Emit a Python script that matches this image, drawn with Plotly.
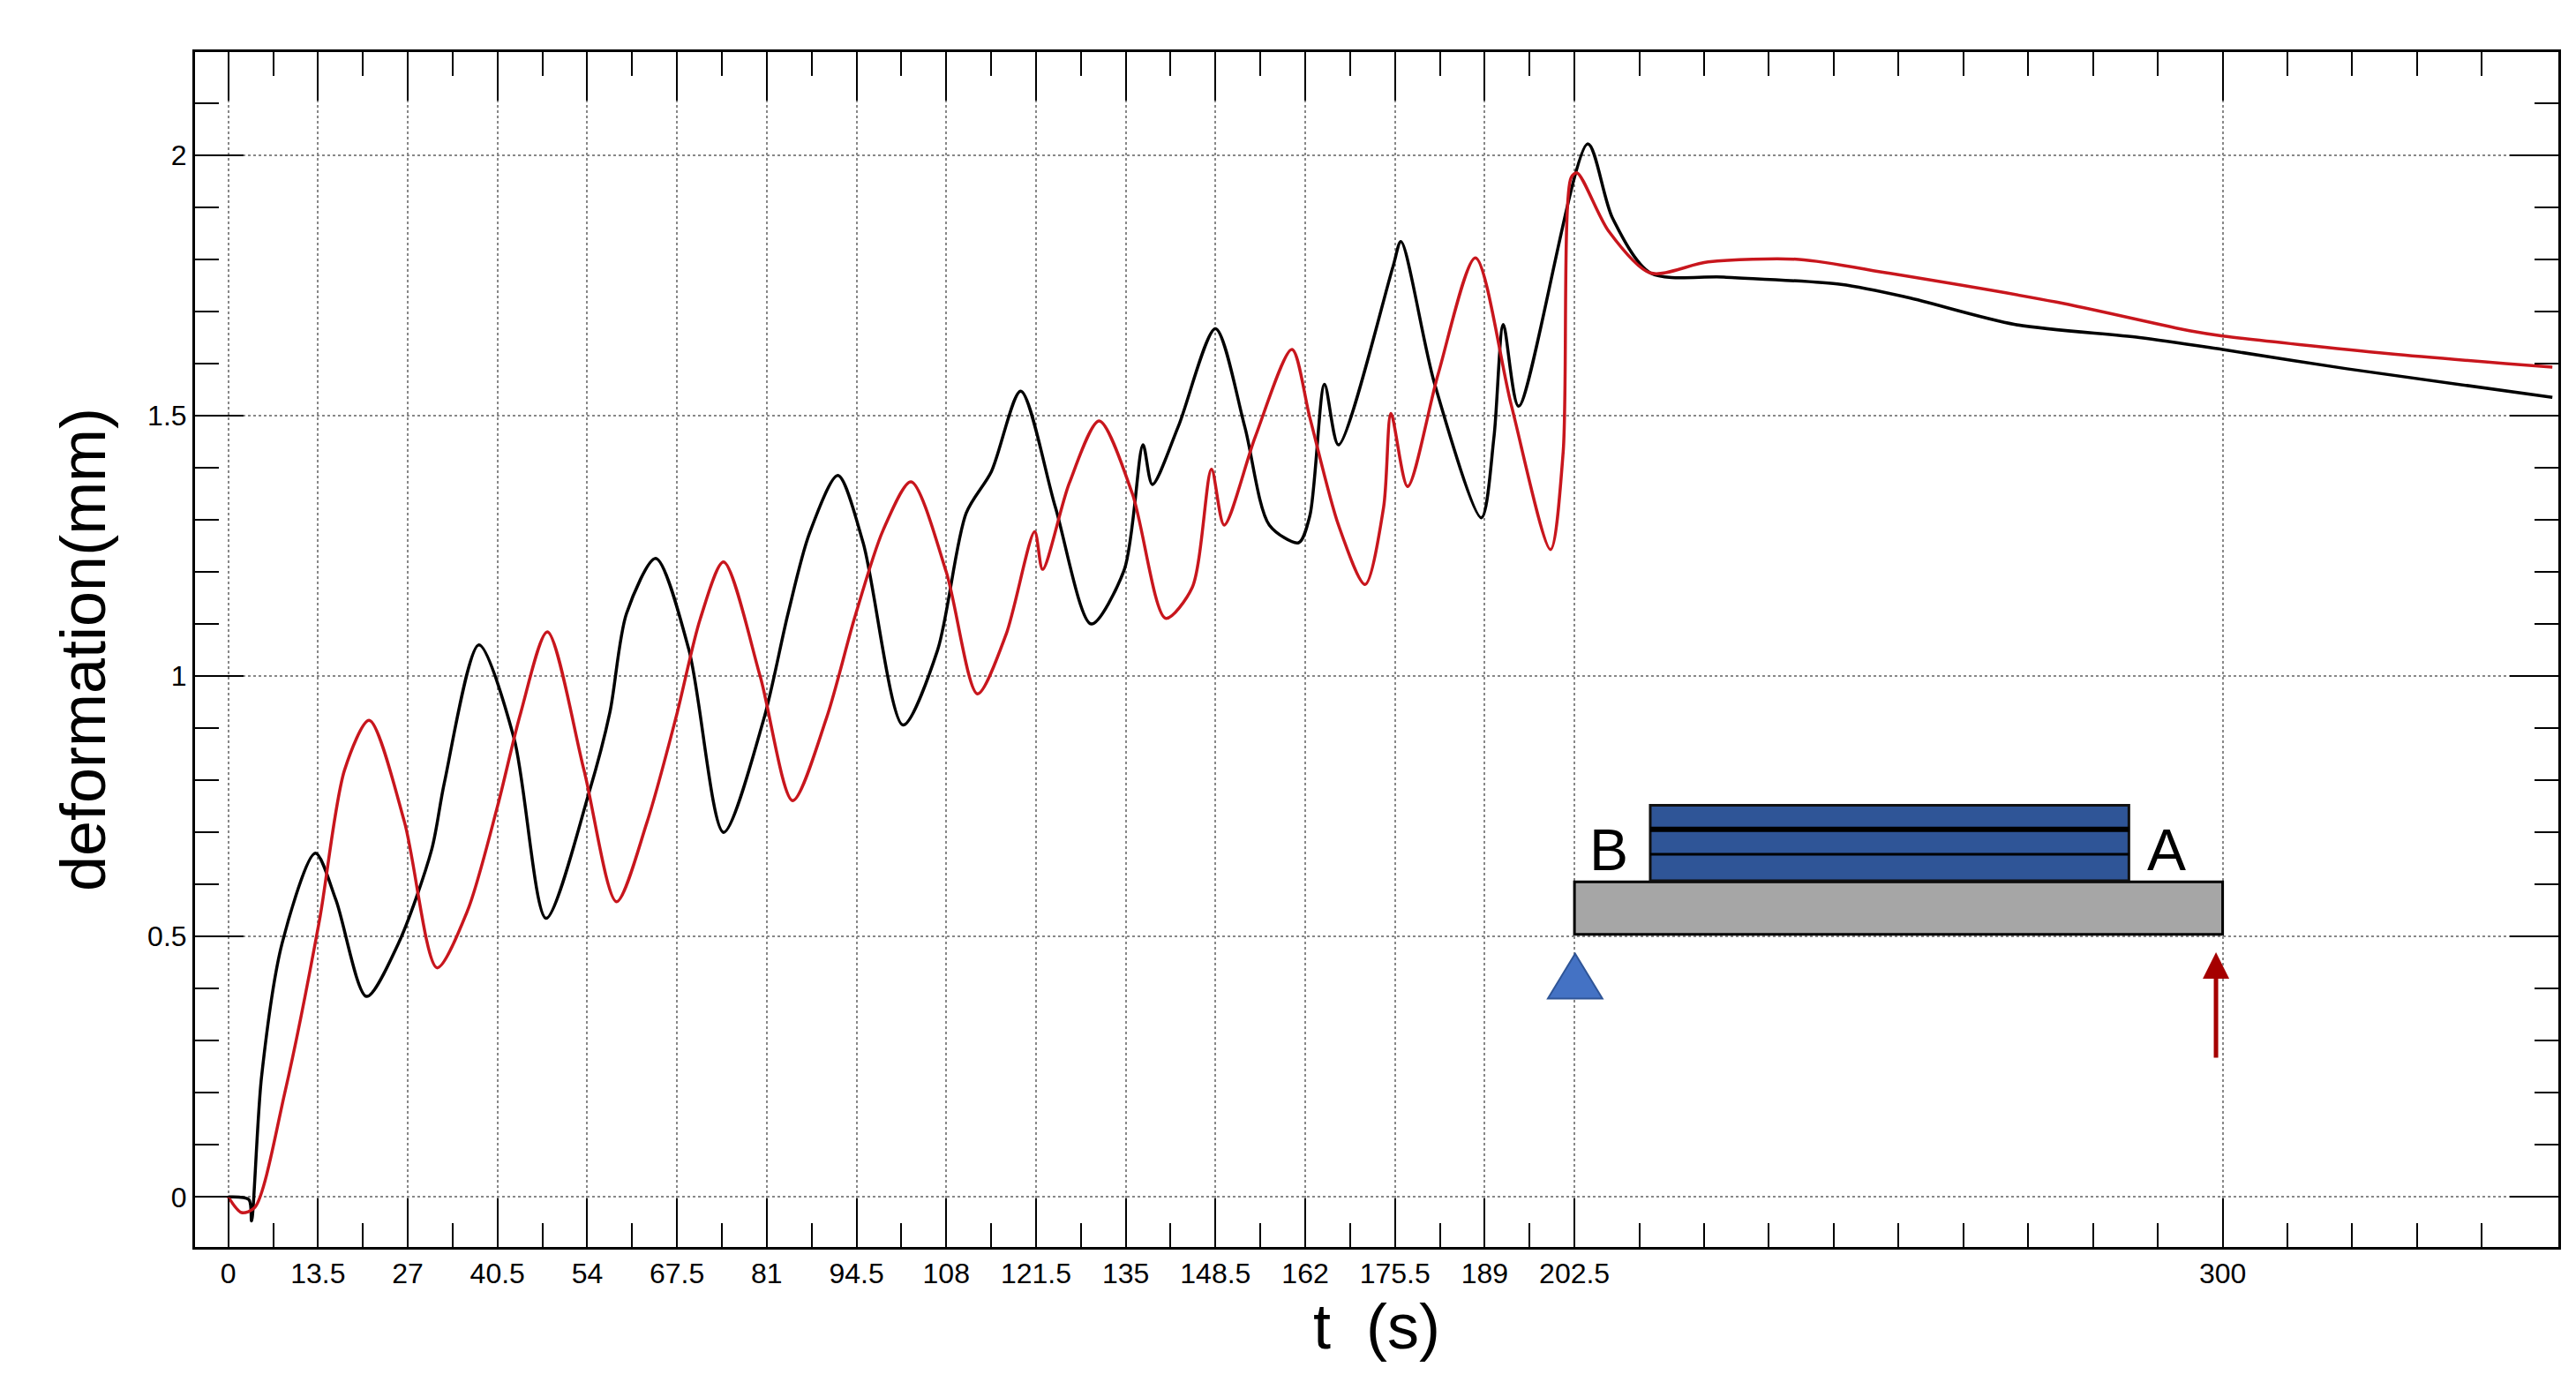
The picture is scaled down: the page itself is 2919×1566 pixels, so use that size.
import plotly.graph_objects as go

# black curve (t in s, deformation in mm)
black_t = [0, 3.1, 3.5, 5, 8.1, 13.1, 16.2, 20.8, 25.6, 30.6, 32.5, 37.7, 43, 47.8, 54.3, 57.4,
           59.9, 64.3, 69.3, 74.5, 80.5, 84.2, 87.4, 91.7, 95.5, 101.5, 106.7, 111, 114.8, 119.2,
           124.4, 129.8, 134.8, 137.6, 139, 142.9, 148.5, 152.9, 156.6, 161, 162.7, 164.9, 167,
           175.2, 176.4, 181.4, 188.5, 190.4, 191.8, 194.1, 204.5, 208.2, 213.9, 225, 242.6, 252.6,
           268.8, 287.5, 300, 318.7, 349.6]
black_y = [0, -0.005, -0.046, 0.23, 0.487, 0.66, 0.57, 0.385, 0.487, 0.667, 0.795, 1.06, 0.88, 0.535,
           0.778, 0.93, 1.12, 1.226, 1.05, 0.70, 0.915, 1.12, 1.273, 1.385, 1.256, 0.906, 1.05, 1.313,
           1.393, 1.547, 1.325, 1.10, 1.205, 1.444, 1.368, 1.479, 1.667, 1.479, 1.29, 1.256, 1.308,
           1.56, 1.444, 1.786, 1.834, 1.564, 1.304, 1.46, 1.675, 1.518, 2.022, 1.88, 1.774, 1.766,
           1.752, 1.727, 1.675, 1.65, 1.627, 1.59, 1.535]

# red curve
red_t = [0, 2, 4, 8.5, 13.7, 17.5, 21.2, 26.5, 31.4, 36, 40.5, 44, 48, 53.5, 58.4, 63, 67.4, 71,
         74.5, 80, 84.9, 90, 94.2, 98.5, 102.7, 108, 112.7, 117, 121.3, 122.5, 126.5, 131, 136,
         141, 145, 147.9, 149.8, 154.5, 160, 162.7, 167, 171, 173.8, 174.9, 177.4, 182, 187.6,
         193, 198.9, 200.8, 202, 202.9, 207.6, 213.9, 222.6, 236.3, 250, 275, 295, 300, 325, 349.6]
red_y = [0, -0.03, -0.02, 0.2, 0.53, 0.82, 0.915, 0.72, 0.44, 0.55, 0.75, 0.93, 1.085, 0.82, 0.567,
         0.72, 0.923, 1.11, 1.219, 1.0, 0.761, 0.92, 1.111, 1.28, 1.373, 1.2, 0.966, 1.08, 1.277,
         1.205, 1.37, 1.49, 1.35, 1.111, 1.17, 1.397, 1.29, 1.46, 1.627, 1.496, 1.29, 1.176, 1.325,
         1.504, 1.364, 1.58, 1.803, 1.52, 1.243, 1.43, 1.957, 1.966, 1.855, 1.774, 1.795, 1.80,
         1.773, 1.718, 1.663, 1.653, 1.619, 1.593]

x_major = [0, 13.5, 27, 40.5, 54, 67.5, 81, 94.5, 108, 121.5, 135, 148.5, 162, 175.5, 189, 202.5, 300]
x_major_text = ['0', '13.5', '27', '40.5', '54', '67.5', '81', '94.5', '108', '121.5', '135',
                '148.5', '162', '175.5', '189', '202.5', '300']
x_minor = [6.75 + 13.5 * i for i in range(15)] + [202.5 + 9.75 * i for i in range(1, 15)]

RED = '#c8161d'

fig = go.Figure()
fig.add_trace(go.Scatter(x=black_t, y=black_y, mode='lines', line=dict(color='black', width=3.5, shape='spline', smoothing=0.8)))
fig.add_trace(go.Scatter(x=red_t, y=red_y, mode='lines', line=dict(color=RED, width=3.5, shape='spline', smoothing=0.8)))
# dummy trace for minor x ticks axis
fig.add_trace(go.Scatter(x=[0], y=[0], xaxis='x2', mode='markers', marker=dict(opacity=0), hoverinfo='skip'))

# beam sketch
shapes = [
    dict(type='rect', x0=202.5, x1=300, y0=0.504, y1=0.605, fillcolor='#a6a6a6', line=dict(color='black', width=3)),
    dict(type='rect', x0=213.9, x1=285.9, y0=0.607, y1=0.752, fillcolor='#2f5597', line=dict(color='#111', width=3)),
    dict(type='line', x0=213.9, x1=285.9, y0=0.706, y1=0.706, line=dict(color='black', width=6)),
    dict(type='line', x0=213.9, x1=285.9, y0=0.658, y1=0.658, line=dict(color='black', width=3)),
    dict(type='path', path='M 198.5 0.381 L 206.7 0.381 L 202.6 0.467 Z', fillcolor='#4472c4', line=dict(color='#2f5597', width=2)),
]
annotations = [
    dict(x=207.6, y=0.667, text='B', showarrow=False, font=dict(size=66, color='black')),
    dict(x=291.5, y=0.667, text='A', showarrow=False, font=dict(size=66, color='black')),
    dict(x=299, y=0.47, ax=299, ay=0.265, axref='x', ayref='y', text='', showarrow=True,
         arrowhead=2, arrowsize=1.2, arrowwidth=5, arrowcolor='#a50000'),
]

fig.update_layout(
    width=2919, height=1566,
    paper_bgcolor='white', plot_bgcolor='white',
    margin=dict(l=213, r=28, t=51, b=161),
    showlegend=False,
    font=dict(family='Liberation Sans, Arial', color='black', size=32),
    shapes=shapes, annotations=annotations,
    xaxis=dict(range=[-5, 350.5], tickvals=x_major, ticktext=x_major_text, ticks='inside', ticklen=55,
               tickwidth=2, tickcolor='black', showline=True, linecolor='black', linewidth=3, mirror='ticks',
               showgrid=True, gridcolor='#888', griddash='dot', gridwidth=2, zeroline=False,
               title=dict(text='t  (s)', font=dict(size=72), standoff=18), tickfont=dict(size=32)),
    xaxis2=dict(range=[-5, 350.5], overlaying='x', tickvals=x_minor, showticklabels=False, ticks='inside',
                ticklen=27, tickwidth=2, tickcolor='black', mirror='ticks', showgrid=False, zeroline=False,
                showline=False, anchor='y'),
    yaxis=dict(range=[-0.096, 2.198], tickvals=[0, 0.5, 1, 1.5, 2], ticktext=['0', '0.5', '1', '1.5', '2'],
               ticks='inside', ticklen=55, tickwidth=2, tickcolor='black', showline=True, linecolor='black',
               linewidth=3, mirror='ticks', showgrid=True, gridcolor='#888', griddash='dot', gridwidth=2,
               zeroline=False, minor=dict(dtick=0.1, ticks='inside', ticklen=27, tickwidth=2, tickcolor='black', showgrid=False),
               title=dict(text='deformation(mm)', font=dict(size=72), standoff=24), tickfont=dict(size=32)),
)

fig.write_html("out.html")
